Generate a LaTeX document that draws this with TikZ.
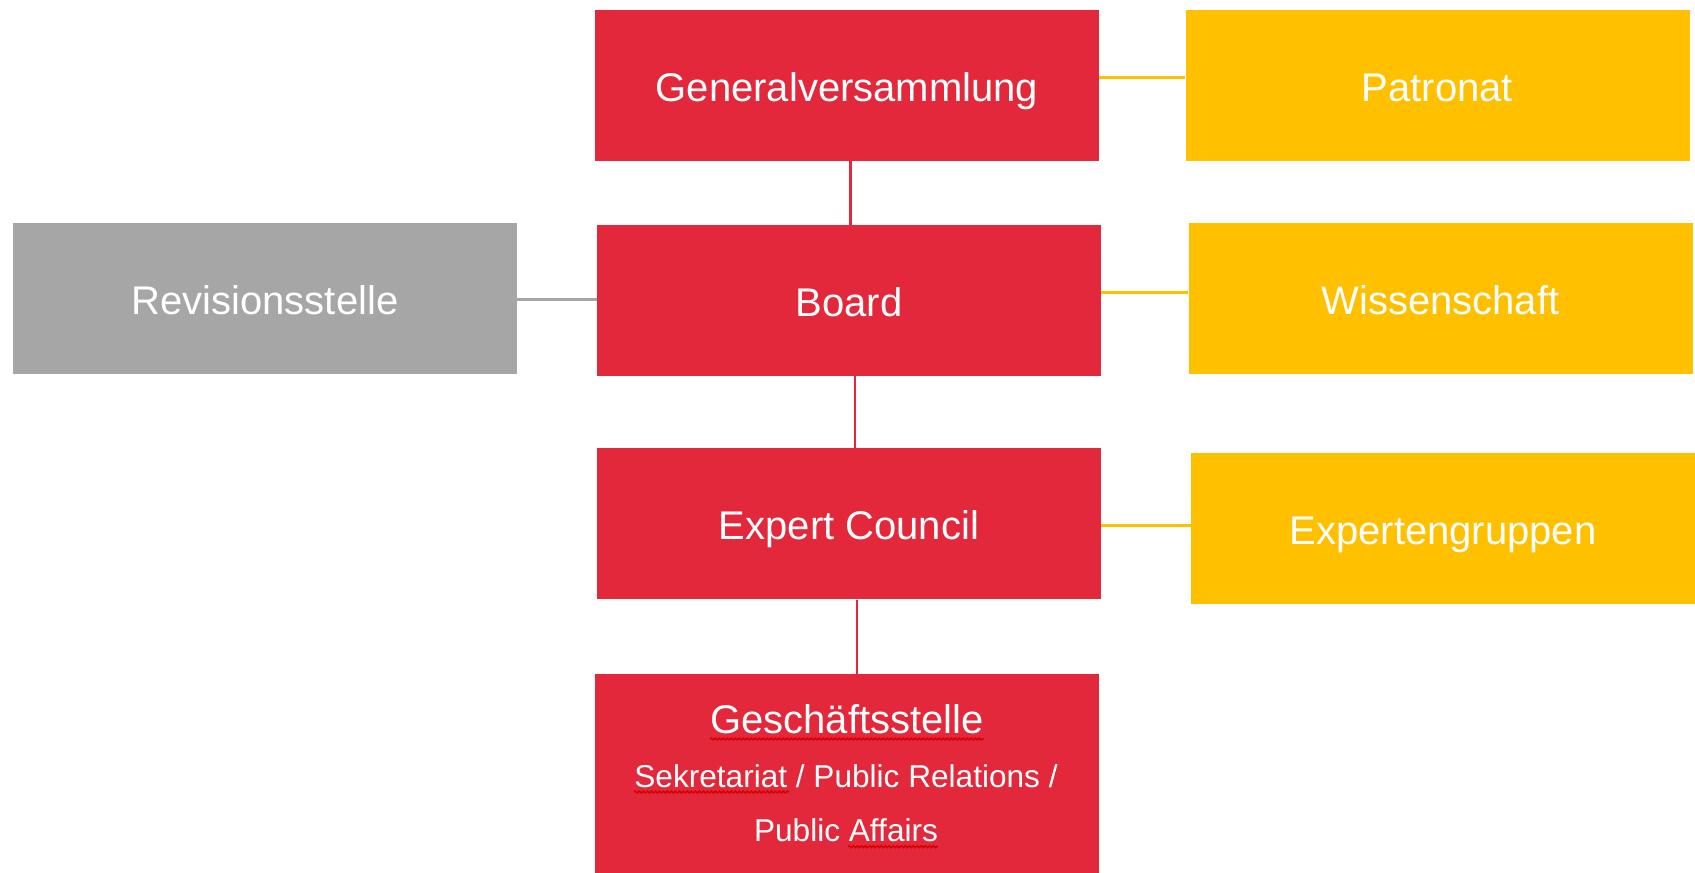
\documentclass[tikz,border=0pt]{standalone}
\usepackage{fontspec}
\setmainfont{Liberation Sans}
\usetikzlibrary{calc,decorations.pathmorphing}
\definecolor{orgred}{RGB}{226,40,58}
\definecolor{orgyellow}{RGB}{255,192,0}
\definecolor{orggray}{RGB}{166,166,166}
\definecolor{spellred}{RGB}{215,0,0}
\tikzset{
  box/.style={rectangle, inner sep=0pt, minimum width=378pt, minimum height=113.25pt,
    text=white, font=\fontsize{30}{36}\selectfont, text height=24pt, text depth=0pt},
  redbox/.style={box, fill=orgred},
  yellowbox/.style={box, fill=orgyellow},
  graybox/.style={box, fill=orggray},
  redline/.style={draw=orgred, line width=1.9pt},
  yellowline/.style={draw=orgyellow, line width=2.25pt},
  grayline/.style={draw=orggray, line width=2.25pt},
  bigtxt/.style={inner sep=0pt, text=white, font=\fontsize{30}{36}\selectfont},
  smalltxt/.style={inner sep=0pt, text=white, font=\fontsize{23.7}{28}\selectfont},
  squig/.style={draw=spellred, line width=1.1pt, decorate,
    decoration={snake, amplitude=0.7pt, segment length=3pt}}
}
\begin{document}
\begin{tikzpicture}[x=0.75pt, y=-0.75pt]
  \path[use as bounding box, fill=white] (0,0) rectangle (1695,872);
  \clip (0,0) rectangle (1695,872);

  % boxes
  \node[redbox] (gv) at (847,85.25) {Generalversammlung};
  \node[yellowbox] (pat) at (1437.5,85.25) {Patronat};
  \node[redbox] (board) at (849,300.5) {Board};
  \node[graybox] (rev) at (265,298.35) {Revisionsstelle};
  \node[yellowbox] (wiss) at (1440.5,298.35) {Wissenschaft};
  \node[redbox] (ec) at (849,523.9) {Expert Council};
  \node[yellowbox] (expg) at (1443,528.5) {Expertengruppen};
  \node[redbox, minimum height=154.5pt] (gs) at (847,777) {};

  % Geschäftsstelle texts
  \node[bigtxt, anchor=base] (gs1) at (847,733) {Geschäftsstelle};
  \node[smalltxt, anchor=base] (gs2) at (846,787) {Sekretariat / Public Relations /};
  \node[smalltxt, anchor=base] (gs3) at (846,841.7) {Public Affairs};

  % spell-check underlines
  \draw[squig] ($(gs1.base west)+(0,6)$) -- ($(gs1.base east)+(0,6)$);
  \draw[squig] ($(gs2.base west)+(0,5)$) -- ($(gs2.base west)+(155,5)$);
  \draw[squig] ($(gs3.base east)+(-90,5)$) -- ($(gs3.base east)+(0,5)$);

  % vertical red connectors
  \coordinate (c1) at ($(gv.south)+(3.6,0)$);
  \draw[redline] (c1) -- (c1 |- board.north);
  \coordinate (c2) at ($(board.south)+(6,0)$);
  \draw[redline] (c2) -- (c2 |- ec.north);
  \coordinate (c3) at ($(ec.south)+(8,0)$);
  \draw[redline] (c3) -- (c3 |- gs.north);

  % horizontal connectors
  \coordinate (h1) at ($(gv.east)+(0,-8.25)$);
  \draw[yellowline] (h1) -- (h1 -| pat.west);
  \coordinate (h2) at ($(board.east)+(0,-8.2)$);
  \draw[yellowline] (h2) -- (h2 -| wiss.west);
  \coordinate (h3) at ($(ec.east)+(0,1.1)$);
  \draw[yellowline] (h3) -- (h3 -| expg.west);
  \coordinate (h4) at ($(rev.east)+(0,1)$);
  \draw[grayline] (h4) -- (h4 -| board.west);
\end{tikzpicture}
\end{document}
